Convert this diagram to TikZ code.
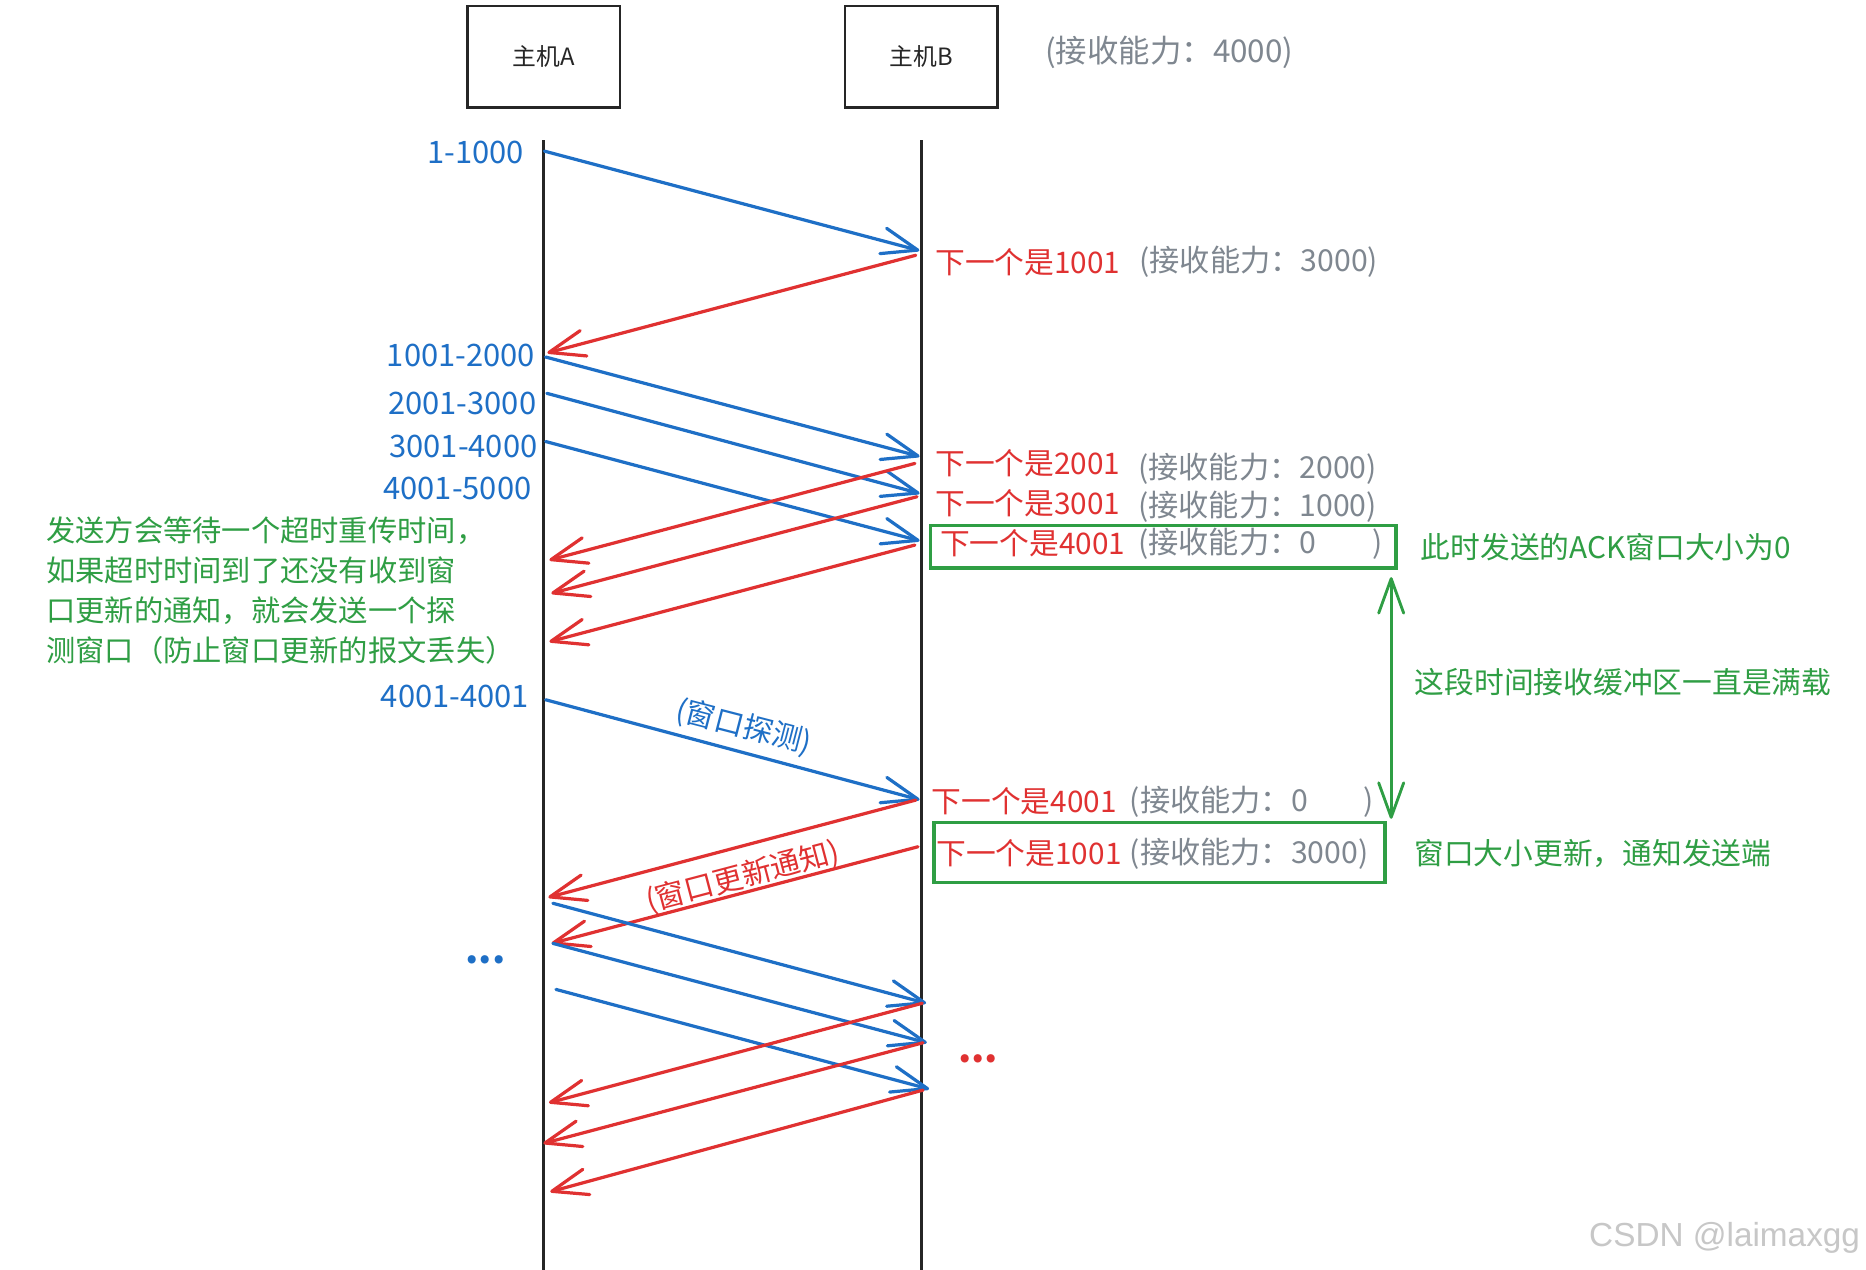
\documentclass[tikz,border=0pt]{standalone}
\usepackage{fontspec}
\setmainfont{Noto Sans CJK SC}
\newfontfamily\wmfont{Liberation Sans}
\usetikzlibrary{arrows.meta}
\definecolor{cblue}{HTML}{1E6FC6}
\definecolor{cred}{HTML}{E03131}
\definecolor{cgreen}{HTML}{2F9E44}
\definecolor{cgray}{HTML}{7F8790}
\begin{document}
\begin{tikzpicture}[x=0.5pt,y=-0.5pt,
  host/.style={draw=black!85,line width=1.2pt,minimum width=64pt,minimum height=42.5pt,inner sep=0pt,font=\fontsize{10}{12}\selectfont,text=black!85},
  life/.style={draw=black!85,line width=1.2pt},
  msg/.style={line width=1.35pt,line cap=round,-{Straight Barb[length=15pt,width=11pt,round]}},
  bmsg/.style={msg,draw=cblue},
  rmsg/.style={msg,draw=cred},
  seqlbl/.style={anchor=east,inner sep=0pt,text=cblue,font=\fontsize{13}{15}\selectfont},
  acklbl/.style={anchor=west,inner sep=0pt,text=cred,font=\fontsize{12.5}{15}\selectfont},
  caplbl/.style={anchor=west,inner sep=0pt,text=cgray,font=\fontsize{12.7}{15}\selectfont},
  note/.style={anchor=west,inner sep=0pt,text=cgreen,font=\fontsize{12.5}{15}\selectfont},
  gboxn/.style={draw=cgreen,line width=1.35pt,inner sep=0pt},
  dotlbl/.style={anchor=base,inner sep=0pt,font=\fontsize{16}{18}\selectfont\bfseries},
  gmark/.style={draw=cgreen,line width=1.2pt,line cap=round,{Straight Barb[length=14.5pt,width=10.5pt,round]}-{Straight Barb[length=14.5pt,width=10.5pt,round]}},
]
\useasboundingbox (0,0) rectangle (1568,1067);
\fill[white] (0,0) rectangle (1568,1067);

% hosts
\node[host] (hA) at (457,47.5) {主机A};
\node[host] (hB) at (774,47.5) {主机B};
\node[caplbl,font=\fontsize{13.2}{15}\selectfont] (capB) at (878,44) {(接收能力：4000)};

% lifelines
\coordinate (lAt) at (457,118);
\coordinate (lAb) at (457,1067);
\coordinate (lBt) at (774,118);
\coordinate (lBb) at (774,1067);
\draw[life] (lAt) -- (lAb);
\draw[life] (lBt) -- (lBb);

% endpoints
\coordinate (a1) at (457.5,127);   \coordinate (b1) at (772.5,210.5);
\coordinate (b2) at (769.5,214.5); \coordinate (a2) at (460,296.5);
\coordinate (a3) at (458.5,300);   \coordinate (b3) at (772.7,383.5);
\coordinate (a4) at (459.5,330.5); \coordinate (b4) at (772.7,414.6);
\coordinate (a5) at (458.5,371);   \coordinate (b5) at (772.7,454.4);
\coordinate (b6) at (768.8,389.4); \coordinate (a6) at (461.7,470.6);
\coordinate (b7) at (770.5,417.4); \coordinate (a7) at (463.3,498.6);
\coordinate (b8) at (768.8,458);   \coordinate (a8) at (461.7,539.2);
\coordinate (a9) at (458.5,588);   \coordinate (b9) at (772.7,672);
\coordinate (b10) at (769.5,672.3); \coordinate (a10) at (460.8,754);
\coordinate (b11) at (771.4,711.5); \coordinate (a11) at (463.6,792.7);
\coordinate (a12) at (464.6,759);   \coordinate (b12) at (778.2,843);
\coordinate (a13) at (464.6,792.7); \coordinate (b13) at (778.8,876.2);
\coordinate (a14) at (467.2,831.4); \coordinate (b14) at (780.7,915.1);
\coordinate (b15) at (775,843);     \coordinate (a15) at (461.3,926.6);
\coordinate (b16) at (775.6,876.2); \coordinate (a16) at (456.6,960.8);
\coordinate (b17) at (775.6,916);   \coordinate (a17) at (462.4,1001.4);

% messages
\draw[bmsg] (a1) -- (b1);
\draw[rmsg] (b2) -- (a2);
\draw[bmsg] (a3) -- (b3);
\draw[bmsg] (a4) -- (b4);
\draw[bmsg] (a5) -- (b5);
\draw[rmsg] (b6) -- (a6);
\draw[rmsg] (b7) -- (a7);
\draw[rmsg] (b8) -- (a8);
\draw[bmsg] (a9) -- (b9);
\draw[rmsg] (b10) -- (a10);
\draw[rmsg] (b11) -- (a11);
\draw[bmsg] (a12) -- (b12);
\draw[bmsg] (a13) -- (b13);
\draw[bmsg] (a14) -- (b14);
\draw[rmsg] (b15) -- (a15);
\draw[rmsg] (b16) -- (a16);
\draw[rmsg] (b17) -- (a17);

% sequence labels
\node[seqlbl] (s1) at (440.5,128.5) {1-1000};
\node[seqlbl] (s2) at (450,299) {1001-2000};
\node[seqlbl] (s3) at (451,339) {2001-3000};
\node[seqlbl] (s4) at (452,375.5) {3001-4000};
\node[seqlbl] (s5) at (447,410.5) {4001-5000};
\node[seqlbl] (s6) at (445,585.5) {4001-4001};

% ack labels
\node[acklbl] (k1) at (785.5,220) {下一个是1001};
\node[caplbl] (c1) at (957,220) {(接收能力：3000)};
\node[acklbl] (k2) at (785.5,389.5) {下一个是2001};
\node[caplbl] (c2) at (956,393.5) {(接收能力：2000)};
\node[acklbl] (k3) at (785.5,423) {下一个是3001};
\node[caplbl] (c3) at (956,426) {(接收能力：1000)};
\node[gboxn,minimum width=195.5pt,minimum height=17.75pt] (box1) at (977.6,459.5) {};
\node[acklbl] (k4) at (789.5,456.5) {下一个是4001};
\node[caplbl] (c4) at (956,457) {(接收能力：0\hspace{1.85em})};
\node[acklbl] (k5) at (782.5,673.5) {下一个是4001};
\node[caplbl] (c5) at (949,674) {(接收能力：0\hspace{1.85em})};
\node[gboxn,minimum width=189.5pt,minimum height=25.35pt] (box2) at (974.3,716.4) {};
\node[acklbl] (k6) at (786.5,717) {下一个是1001};
\node[caplbl] (c6) at (949,717) {(接收能力：3000)};

% notes
\node[note] (n1) at (1193.5,459.5) {此时发送的ACK窗口大小为0};
\coordinate (g1) at (1169,485);
\coordinate (g2) at (1169,688);
\draw[gmark] (g1) -- (g2);
\node[note] (n2) at (1188.5,573) {这段时间接收缓冲区一直是满载};
\node[note] (n3) at (1188,717) {窗口大小更新，通知发送端};
\node[anchor=west,inner sep=0pt,text=cgreen,align=left,font=\fontsize{12.3}{16.8}\selectfont] (n4) at (38.4,496)
  {发送方会等待一个超时重传时间，\\如果超时时间到了还没有收到窗\\口更新的通知，就会发送一个探\\测窗口（防止窗口更新的报文丢失）};

% rotated message labels
\node[inner sep=0pt,rotate=-14.5,text=cblue,font=\fontsize{12.5}{15}\selectfont] (probe) at (625,611) {(窗口探测)};
\node[inner sep=0pt,rotate=14.8,text=cred,font=\fontsize{12.5}{15}\selectfont] (upd) at (624,737) {(窗口更新通知)};

% dots
\node[dotlbl,text=cblue] (d1) at (408,810) {...};
\node[dotlbl,text=cred] (d2) at (822,893) {...};

% watermark
\node[anchor=west,inner sep=0pt,text=black!22,font=\wmfont\fontsize{14}{16}\selectfont] (wm) at (1335,1040) {CSDN @laimaxgg};
\end{tikzpicture}
\end{document}
